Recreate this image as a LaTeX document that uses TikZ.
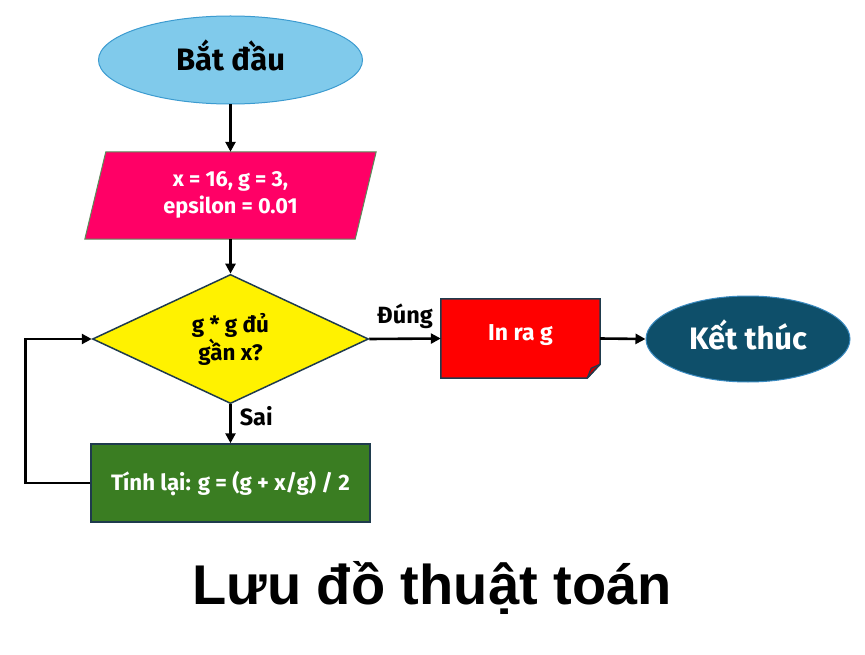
\documentclass[tikz,border=0pt]{standalone}
\usepackage{fontspec}
\setmainfont{Fira Sans}
\newfontfamily\titlefont{Liberation Sans}
\usetikzlibrary{shapes.geometric,arrows.meta,calc}
\definecolor{startfill}{HTML}{80CAEB}
\definecolor{startline}{HTML}{3C9BD0}
\definecolor{infill}{HTML}{FF0066}
\definecolor{inline}{HTML}{5B8C5A}
\definecolor{darkline}{HTML}{1F3B4D}
\definecolor{calcfill}{HTML}{3A7D22}
\definecolor{outfill}{HTML}{FF0000}
\definecolor{foldfill}{HTML}{C00000}
\definecolor{endfill}{HTML}{0E4F6A}
\definecolor{endline}{HTML}{3A8AC0}
\tikzset{
  arr/.style={line width=2.6pt,draw=black,-{Triangle[length=10pt,width=10pt]}},
  txt/.style={align=center,inner sep=0pt},
  lbl/.style={font=\bfseries\fontsize{23.5}{26}\selectfont,inner sep=0pt,text=black,
    text height=16.5pt,text depth=4.7pt},
}
\begin{document}
\begin{tikzpicture}[x=1pt,y=-1pt]
\useasboundingbox[fill=white] (0,0) rectangle (865,655);
% start
\node[ellipse,draw=startline,line width=1pt,fill=startfill,minimum width=264pt,minimum height=88pt,inner sep=0pt,
  text height=27pt,text depth=6.2pt,font=\bfseries\fontsize{31}{34}\selectfont] (start) at (230.5,60) {Bắt đầu};
% input parallelogram
\node[minimum width=291pt,minimum height=87pt,inner sep=0pt] (in) at (230.5,195.5) {};
\draw[draw=inline,line width=1pt,fill=infill]
  ($(in.north west)+(21,0)$) -- (in.north east) -- ($(in.south east)+(-21,0)$) -- (in.south west) -- cycle;
\node[txt,text=white,font=\bfseries\fontsize{21.7}{27}\selectfont] (intext) at (230.5,195) {x = 16, g = 3,\\epsilon = 0.01};
% decision
\node[diamond,draw=darkline,line width=1.5pt,fill=yellow,minimum width=276pt,minimum height=102pt,inner sep=0pt,
  txt,text=black,font=\bfseries\fontsize{22.4}{28}\selectfont] (dec) at (230.5,339) {g * g đủ\\gần x?};
% calc
\node[rectangle,draw=darkline,line width=1.5pt,fill=calcfill,minimum width=279pt,minimum height=78pt,
  txt,text height=19.9pt,text depth=4.5pt,text=white,font=\bfseries\fontsize{22.3}{26}\selectfont] (calc) at (230.5,483) {Tính lại: g = (g + x/g) / 2};
% output with folded corner
\node[minimum width=159pt,minimum height=79pt,inner sep=0pt] (out) at (520.5,338.5) {};
\draw[draw=darkline,line width=1.5pt,fill=outfill]
  (out.north west) -- (out.north east) -- ($(out.south east)+(0,-14)$) -- ($(out.south east)+(-13,0)$) -- (out.south west) -- cycle;
\draw[draw=darkline,line width=1.2pt,fill=foldfill,line join=round]
  ($(out.south east)+(0,-14)$) -- ($(out.south east)+(-9,-10)$) -- ($(out.south east)+(-13,0)$) -- cycle;
\node[txt,text height=16.1pt,text depth=4.6pt,text=white,font=\bfseries\fontsize{23}{26}\selectfont] (outtext) at (520.5,335) {In ra g};
% end
\node[ellipse,draw=endline,line width=1pt,fill=endfill,minimum width=204pt,minimum height=86pt,inner sep=0pt,
  text height=27pt,text depth=6.2pt,text=white,font=\bfseries\fontsize{31}{34}\selectfont] (end) at (748,339) {Kết thúc};
% connectors
\draw[arr] (start.south) -- (in.north);
\draw[arr] (in.south) -- (dec.north);
\draw[arr] (dec.south) -- node[lbl,right=8pt,pos=0.38] (sai) {Sai} (calc.north);
\draw[arr] (calc.west) -- ++(-65,0) |- (dec.west);
\draw[arr] (dec.east) -- node[lbl,above=9pt] (dung) {Đúng} (out.west);
\draw[arr] (out.east) -- (end.west);
% title
\node[font=\titlefont\bfseries\fontsize{56}{60}\selectfont,inner sep=0pt] (title) at (432,588) {Lưu đồ thuật toán};
\end{tikzpicture}
\end{document}
